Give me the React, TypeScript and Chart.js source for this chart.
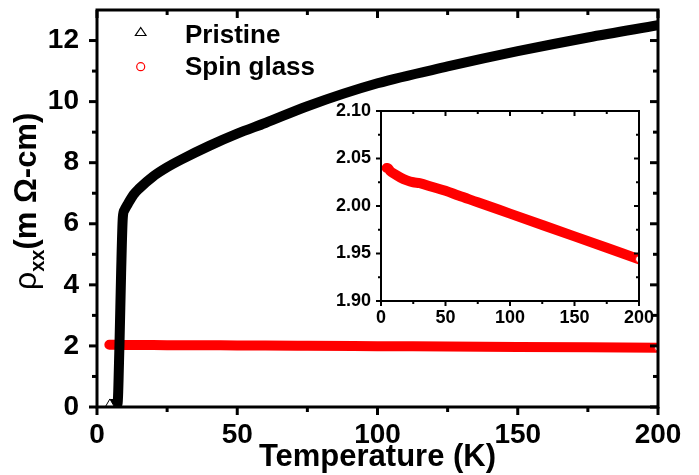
import React, { useEffect, useRef } from 'react';
import { Chart, registerables } from 'chart.js';

Chart.register(...registerables);

// ---------- data ----------
const pristineT = [4.6, 6, 7.3, 8.0, 8.6, 9.2, 9.8, 11, 13, 15, 20, 25, 30, 40, 50, 60, 75, 100, 125, 150, 175, 200];
const pristineRho = [0.1, 0.1, 0.1, 2.0, 4.4, 6.2, 6.45, 6.65, 6.95, 7.15, 7.55, 7.85, 8.1, 8.55, 8.95, 9.3, 9.85, 10.6, 11.15, 11.65, 12.1, 12.5];
const spinT = [4.4, 5, 7, 10, 15, 20, 25, 30, 40, 50, 60, 75, 100, 125, 150, 175, 200];
const spinRho = [2.040, 2.040, 2.037, 2.034, 2.030, 2.027, 2.025, 2.024, 2.020, 2.016, 2.011, 2.004, 1.992, 1.980, 1.968, 1.956, 1.944];

const mainXTicks = [0, 50, 100, 150, 200];
const mainXMinor = [25, 75, 125, 175];
const mainYTicks = [0, 2, 4, 6, 8, 10, 12];
const mainYMinor = [1, 3, 5, 7, 9, 11];
const insetXTicks = [0, 50, 100, 150, 200];
const insetXMinor = [25, 75, 125, 175];
const insetYTicks = [1.90, 1.95, 2.00, 2.05, 2.10];
const insetYMinor = [1.925, 1.975, 2.025, 2.075];

const legendLabels = ['Pristine', 'Spin glass'];
const xTitle = 'Temperature (K)';
const yTitleMain = 'ρ';
const yTitleSub = 'xx';
const yTitleRest = '(m Ω-cm)';

const FONT = "'Liberation Sans', Arial, Helvetica, sans-serif";
const RED = '#ff0000';

function makeFrame(id: string, lw: number, majorLen: number, minorLen: number,
  xMajor: number[], xMinor: number[], yMajor: number[], yMinor: number[]) {
  return {
    id,
    afterDraw(chart: any) {
      const { ctx, chartArea: a, scales } = chart;
      const xs = scales.x;
      const ys = scales.y;
      ctx.save();
      ctx.strokeStyle = '#000';
      ctx.lineWidth = lw;
      ctx.lineCap = 'butt';
      ctx.strokeRect(a.left, a.top, a.right - a.left, a.bottom - a.top);
      const seg = (x1: number, y1: number, x2: number, y2: number) => {
        ctx.beginPath();
        ctx.moveTo(x1, y1);
        ctx.lineTo(x2, y2);
        ctx.stroke();
      };
      const xt = (vals: number[], len: number) => vals.forEach((v) => {
        const px = xs.getPixelForValue(v);
        seg(px, a.bottom, px, a.bottom + len);
        seg(px, a.top, px, a.top + len);
      });
      const yt = (vals: number[], len: number) => vals.forEach((v) => {
        const py = ys.getPixelForValue(v);
        seg(a.left, py, a.left - len, py);
        seg(a.right, py, a.right - len, py);
      });
      xt(xMajor, majorLen);
      xt(xMinor, minorLen);
      yt(yMajor, majorLen);
      yt(yMinor, minorLen);
      ctx.restore();
    },
  };
}

const mainDecor = {
  id: 'mainDecor',
  afterDraw(chart: any) {
    const { ctx, chartArea: a } = chart;
    ctx.save();
    ctx.fillStyle = '#000';
    // x title
    ctx.font = `bold 31px ${FONT}`;
    ctx.textAlign = 'center';
    ctx.textBaseline = 'alphabetic';
    ctx.fillText(xTitle, (a.left + a.right) / 2, 466);
    // y title (rotated)
    ctx.save();
    ctx.translate(36, 290);
    ctx.rotate(-Math.PI / 2);
    ctx.textAlign = 'left';
    let x = 0;
    ctx.font = `32px ${FONT}`;
    ctx.fillText(yTitleMain, x, 0);
    x += ctx.measureText(yTitleMain).width;
    ctx.font = `bold 20px ${FONT}`;
    ctx.fillText(yTitleSub, x, 8);
    x += ctx.measureText(yTitleSub).width;
    ctx.font = `bold 31px ${FONT}`;
    ctx.fillText(yTitleRest, x, 0);
    ctx.restore();
    // legend
    ctx.lineWidth = 1.2;
    ctx.strokeStyle = '#000';
    ctx.fillStyle = '#fff';
    ctx.beginPath();
    ctx.moveTo(140.7, 27.5);
    ctx.lineTo(146, 35.5);
    ctx.lineTo(135.4, 35.5);
    ctx.closePath();
    ctx.fill();
    ctx.stroke();
    ctx.strokeStyle = RED;
    ctx.beginPath();
    ctx.arc(140.7, 66.7, 4, 0, Math.PI * 2);
    ctx.fill();
    ctx.stroke();
    ctx.fillStyle = '#000';
    ctx.font = `bold 26px ${FONT}`;
    ctx.textAlign = 'left';
    ctx.fillText(legendLabels[0], 185, 43);
    ctx.fillText(legendLabels[1], 185, 75);
    ctx.restore();
  },
};

function fixedTicks(vals: number[]) {
  return (axis: any) => {
    axis.ticks = vals.map((v) => ({ value: v }));
  };
}

function fitX(h: number) {
  return (s: any) => {
    s.height = h;
    s.paddingLeft = 0;
    s.paddingRight = 0;
    s.paddingTop = 0;
    s.paddingBottom = 0;
  };
}
function fitY(w: number) {
  return (s: any) => {
    s.width = w;
    s.paddingLeft = 0;
    s.paddingRight = 0;
    s.paddingTop = 0;
    s.paddingBottom = 0;
  };
}

export default function App() {
  const mainRef = useRef<HTMLCanvasElement>(null);
  const insetRef = useRef<HTMLCanvasElement>(null);

  useEffect(() => {
    const mainChart = new Chart(mainRef.current as HTMLCanvasElement, {
      type: 'line',
      data: {
        datasets: [
          {
            label: legendLabels[0],
            data: pristineT.map((t, i) => ({ x: t, y: pristineRho[i] })),
            borderColor: '#000',
            backgroundColor: '#fff',
            borderWidth: 10,
            borderCapStyle: 'butt',
            borderJoinStyle: 'round',
            cubicInterpolationMode: 'monotone',
            pointStyle: 'triangle',
            pointRadius: pristineT.map((_, i) => (i === 0 ? 5 : 0)),
            pointBackgroundColor: '#fff',
            pointBorderColor: '#000',
            pointBorderWidth: 1,
          },
          {
            label: legendLabels[1],
            data: spinT.map((t, i) => ({ x: t, y: spinRho[i] })),
            borderColor: RED,
            backgroundColor: '#fff',
            borderWidth: 10,
            borderCapStyle: 'round',
            cubicInterpolationMode: 'monotone',
            pointStyle: 'circle',
            pointRadius: spinT.map((_, i) => (i === spinT.length - 1 ? 3.5 : 0)),
            pointBackgroundColor: '#fff',
            pointBorderColor: RED,
            pointBorderWidth: 1,
          },
        ],
      },
      options: {
        animation: false,
        responsive: false,
        maintainAspectRatio: false,
        layout: { padding: { top: 10, right: 41, left: 0, bottom: 0 } },
        plugins: { legend: { display: false }, tooltip: { enabled: false } },
        scales: {
          x: {
            type: 'linear',
            min: 0,
            max: 200,
            afterBuildTicks: fixedTicks(mainXTicks),
            afterFit: fitX(475 - 407),
            grid: { display: false, drawTicks: false },
            border: { display: false },
            ticks: {
              color: '#000',
              padding: 11,
              maxRotation: 0,
              autoSkip: false,
              font: { family: FONT, weight: 'bold', size: 28 },
            },
          },
          y: {
            type: 'linear',
            min: 0,
            max: 13,
            afterBuildTicks: fixedTicks(mainYTicks),
            afterFit: fitY(97),
            grid: { display: false, drawTicks: false },
            border: { display: false },
            ticks: {
              color: '#000',
              padding: 18,
              autoSkip: false,
              font: { family: FONT, weight: 'bold', size: 28 },
            },
          },
        },
      } as any,
      plugins: [makeFrame('mainFrame', 3, 8, 5, mainXTicks, mainXMinor, mainYTicks, mainYMinor), mainDecor],
    });

    const insetChart = new Chart(insetRef.current as HTMLCanvasElement, {
      type: 'line',
      data: {
        datasets: [
          {
            label: legendLabels[1],
            data: spinT.map((t, i) => ({ x: t, y: spinRho[i] })),
            borderColor: RED,
            borderWidth: 10,
            borderCapStyle: 'round',
            cubicInterpolationMode: 'monotone',
            pointRadius: spinT.map((_, i) => (i === spinT.length - 1 ? 3.5 : 0)),
            pointBackgroundColor: '#fff',
            pointBorderColor: RED,
            pointBorderWidth: 1,
          },
        ],
      },
      options: {
        animation: false,
        responsive: false,
        maintainAspectRatio: false,
        layout: { padding: { top: 26, right: 26, left: 0, bottom: 0 } },
        plugins: { legend: { display: false }, tooltip: { enabled: false } },
        scales: {
          x: {
            type: 'linear',
            min: 0,
            max: 200,
            afterBuildTicks: fixedTicks(insetXTicks),
            afterFit: fitX(34),
            grid: { display: false, drawTicks: false },
            border: { display: false },
            ticks: {
              color: '#000',
              padding: 6,
              maxRotation: 0,
              autoSkip: false,
              font: { family: FONT, weight: 'bold', size: 18 },
            },
          },
          y: {
            type: 'linear',
            min: 1.9,
            max: 2.1,
            afterBuildTicks: fixedTicks(insetYTicks),
            afterFit: fitY(61),
            grid: { display: false, drawTicks: false },
            border: { display: false },
            ticks: {
              color: '#000',
              padding: 10,
              autoSkip: false,
              callback: (v: any) => Number(v).toFixed(2),
              font: { family: FONT, weight: 'bold', size: 18 },
            },
          },
        },
      } as any,
      plugins: [makeFrame('insetFrame', 2, 5, 3, insetXTicks, insetXMinor, insetYTicks, insetYMinor)],
    });

    return () => {
      mainChart.destroy();
      insetChart.destroy();
    };
  }, []);

  return (
    <div style={{ position: 'absolute', left: 0, top: 0, width: 699, height: 475, background: '#fff' }}>
      <canvas ref={mainRef} width={699} height={475} style={{ position: 'absolute', left: 0, top: 0, width: 699, height: 475 }} />
      <canvas ref={insetRef} width={345} height={250} style={{ position: 'absolute', left: 320, top: 85, width: 345, height: 250 }} />
    </div>
  );
}
